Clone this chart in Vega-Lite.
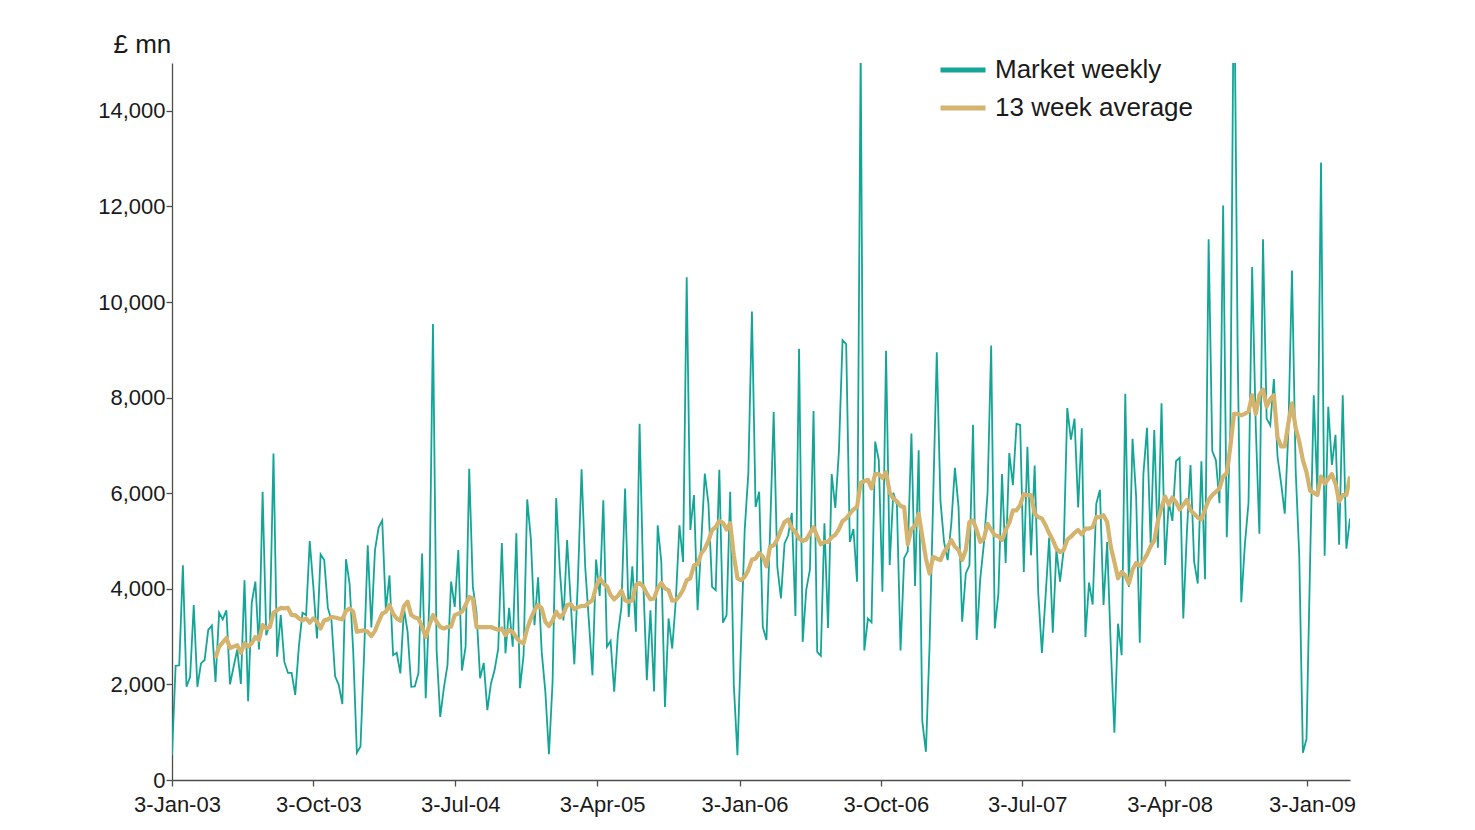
{
"$schema": "https://vega.github.io/schema/vega-lite/v6.json",
"width": 1178, "height": 717,
"autosize": {"type": "none"},
"padding": {"left": 172, "top": 63, "right": 125, "bottom": 50},
"background": "white",
"config": {"view": {"stroke": null}, "font": "Liberation Sans"},
"data": {"values": [
{"d":"2003-01-03","w":520},{"d":"2003-01-10","w":2390},{"d":"2003-01-17","w":2400},{"d":"2003-01-24","w":4490},{"d":"2003-01-31","w":1950},{"d":"2003-02-07","w":2160},{"d":"2003-02-14","w":3660},{"d":"2003-02-21","w":1950},{"d":"2003-02-28","w":2440},{"d":"2003-03-07","w":2510},{"d":"2003-03-14","w":3140},{"d":"2003-03-21","w":3230},
{"d":"2003-03-28","w":2050,"a":2550},{"d":"2003-04-04","w":3500,"a":2790},{"d":"2003-04-11","w":3360,"a":2880},{"d":"2003-04-18","w":3550,"a":2970},{"d":"2003-04-25","w":2000,"a":2760},{"d":"2003-05-02","w":2370,"a":2790},{"d":"2003-05-09","w":2730,"a":2820},{"d":"2003-05-16","w":2010,"a":2660},{"d":"2003-05-23","w":4180,"a":2860},{"d":"2003-05-30","w":1650,"a":2790},{"d":"2003-06-06","w":3710,"a":2860},{"d":"2003-06-13","w":4150,"a":2990},{"d":"2003-06-20","w":2730,"a":2930},{"d":"2003-06-27","w":6030,"a":3240},{"d":"2003-07-04","w":3030,"a":3170},{"d":"2003-07-11","w":3280,"a":3200},{"d":"2003-07-18","w":6830,"a":3500},{"d":"2003-07-25","w":2580,"a":3550},{"d":"2003-08-01","w":3450,"a":3600},{"d":"2003-08-08","w":2470,"a":3590},{"d":"2003-08-15","w":2240,"a":3600},{"d":"2003-08-22","w":2240,"a":3450},{"d":"2003-08-29","w":1780,"a":3450},{"d":"2003-09-05","w":2790,"a":3380},{"d":"2003-09-12","w":3500,"a":3340},{"d":"2003-09-19","w":3450,"a":3380},{"d":"2003-09-26","w":5000,"a":3290},{"d":"2003-10-03","w":4040,"a":3380},{"d":"2003-10-10","w":2960,"a":3310},{"d":"2003-10-17","w":4720,"a":3170},{"d":"2003-10-24","w":4600,"a":3340},{"d":"2003-10-31","w":3600,"a":3360},{"d":"2003-11-07","w":3340,"a":3410},{"d":"2003-11-14","w":2170,"a":3400},{"d":"2003-11-21","w":1990,"a":3380},{"d":"2003-11-28","w":1590,"a":3360},{"d":"2003-12-05","w":4620,"a":3540},{"d":"2003-12-12","w":4100,"a":3590},{"d":"2003-12-19","w":2680,"a":3520},{"d":"2003-12-26","w":570,"a":3100},
{"d":"2004-01-02","w":700,"a":3120},{"d":"2004-01-09","w":2630,"a":3130},{"d":"2004-01-16","w":4910,"a":3100},{"d":"2004-01-23","w":3190,"a":3010},{"d":"2004-01-30","w":4810,"a":3120},{"d":"2004-02-06","w":5280,"a":3310},{"d":"2004-02-13","w":5430,"a":3480},{"d":"2004-02-20","w":3550,"a":3520},{"d":"2004-02-27","w":4280,"a":3660},{"d":"2004-03-05","w":2610,"a":3480},{"d":"2004-03-12","w":2660,"a":3380},{"d":"2004-03-19","w":2230,"a":3330},{"d":"2004-03-26","w":3590,"a":3640},{"d":"2004-04-02","w":3100,"a":3730},{"d":"2004-04-09","w":1950,"a":3450},{"d":"2004-04-16","w":1960,"a":3400},{"d":"2004-04-23","w":2240,"a":3380},{"d":"2004-04-30","w":4740,"a":3200},{"d":"2004-05-07","w":1710,"a":2990},{"d":"2004-05-14","w":3760,"a":3240},{"d":"2004-05-21","w":9540,"a":3450},{"d":"2004-05-28","w":2720,"a":3310},{"d":"2004-06-04","w":1320,"a":3200},{"d":"2004-06-11","w":1920,"a":3170},{"d":"2004-06-18","w":2400,"a":3200},{"d":"2004-06-25","w":4150,"a":3210},{"d":"2004-07-02","w":3620,"a":3450},{"d":"2004-07-09","w":4810,"a":3480},{"d":"2004-07-16","w":2290,"a":3520},{"d":"2004-07-23","w":2790,"a":3660},{"d":"2004-07-30","w":6510,"a":3830},{"d":"2004-08-06","w":4040,"a":3800},{"d":"2004-08-13","w":3520,"a":3200},{"d":"2004-08-20","w":2130,"a":3200},{"d":"2004-08-27","w":2450,"a":3200},{"d":"2004-09-03","w":1460,"a":3200},{"d":"2004-09-10","w":2020,"a":3200},{"d":"2004-09-17","w":2300,"a":3170},{"d":"2004-09-24","w":2750,"a":3140},{"d":"2004-10-01","w":4960,"a":3170},{"d":"2004-10-08","w":2650,"a":3030},{"d":"2004-10-15","w":3600,"a":3140},{"d":"2004-10-22","w":2790,"a":3100},{"d":"2004-10-29","w":5160,"a":2980},{"d":"2004-11-05","w":1920,"a":2890},{"d":"2004-11-12","w":2610,"a":2860},{"d":"2004-11-19","w":5870,"a":3170},{"d":"2004-11-26","w":5050,"a":3380},{"d":"2004-12-03","w":3240,"a":3550},{"d":"2004-12-10","w":4240,"a":3660},{"d":"2004-12-17","w":2680,"a":3590},{"d":"2004-12-24","w":1850,"a":3310},{"d":"2004-12-31","w":540,"a":3220},
{"d":"2005-01-07","w":2050,"a":3340},{"d":"2005-01-14","w":5900,"a":3520},{"d":"2005-01-21","w":4390,"a":3400},{"d":"2005-01-28","w":3340,"a":3480},{"d":"2005-02-04","w":5020,"a":3660},{"d":"2005-02-11","w":3730,"a":3680},{"d":"2005-02-18","w":2420,"a":3570},{"d":"2005-02-25","w":4200,"a":3620},{"d":"2005-03-04","w":6500,"a":3640},{"d":"2005-03-11","w":4460,"a":3640},{"d":"2005-03-18","w":3340,"a":3710},{"d":"2005-03-25","w":2190,"a":3760},{"d":"2005-04-01","w":4610,"a":4040},{"d":"2005-04-08","w":3850,"a":4220},{"d":"2005-04-15","w":5850,"a":4110},{"d":"2005-04-22","w":2790,"a":4050},{"d":"2005-04-29","w":2910,"a":3870},{"d":"2005-05-06","w":1850,"a":3780},{"d":"2005-05-13","w":3030,"a":3850},{"d":"2005-05-20","w":3620,"a":3960},{"d":"2005-05-27","w":6100,"a":3760},{"d":"2005-06-03","w":3410,"a":3730},{"d":"2005-06-10","w":4470,"a":3760},{"d":"2005-06-17","w":3100,"a":4080},{"d":"2005-06-24","w":7450,"a":4120},{"d":"2005-07-01","w":4200,"a":4050},{"d":"2005-07-08","w":2090,"a":3900},{"d":"2005-07-15","w":3550,"a":3780},{"d":"2005-07-22","w":1850,"a":3800},{"d":"2005-07-29","w":5330,"a":4010},{"d":"2005-08-05","w":4560,"a":4120},{"d":"2005-08-12","w":1530,"a":4010},{"d":"2005-08-19","w":3380,"a":3970},{"d":"2005-08-26","w":2750,"a":3750},{"d":"2005-09-02","w":3760,"a":3760},{"d":"2005-09-09","w":5330,"a":3850},{"d":"2005-09-16","w":4560,"a":3980},{"d":"2005-09-23","w":10520,"a":4180},{"d":"2005-09-30","w":5230,"a":4220},{"d":"2005-10-07","w":5960,"a":4490},{"d":"2005-10-14","w":3550,"a":4510},{"d":"2005-10-21","w":4950,"a":4740},{"d":"2005-10-28","w":6410,"a":4840},{"d":"2005-11-04","w":5780,"a":5000},{"d":"2005-11-11","w":4040,"a":5230},{"d":"2005-11-18","w":3970,"a":5290},{"d":"2005-11-25","w":6490,"a":5420},{"d":"2005-12-02","w":3290,"a":5380},{"d":"2005-12-09","w":3450,"a":5240},{"d":"2005-12-16","w":6030,"a":5370},{"d":"2005-12-23","w":1990,"a":4700},{"d":"2005-12-30","w":520,"a":4220},
{"d":"2006-01-06","w":2900,"a":4180},{"d":"2006-01-13","w":5230,"a":4250},{"d":"2006-01-20","w":6410,"a":4390},{"d":"2006-01-27","w":9800,"a":4610},{"d":"2006-02-03","w":5710,"a":4630},{"d":"2006-02-10","w":6030,"a":4750},{"d":"2006-02-17","w":3200,"a":4670},{"d":"2006-02-24","w":2930,"a":4470},{"d":"2006-03-03","w":5190,"a":4880},{"d":"2006-03-10","w":7700,"a":4910},{"d":"2006-03-17","w":4460,"a":5030},{"d":"2006-03-24","w":3800,"a":5230},{"d":"2006-03-31","w":4950,"a":5400},{"d":"2006-04-07","w":5120,"a":5450},{"d":"2006-04-14","w":5590,"a":5260},{"d":"2006-04-21","w":3430,"a":5190},{"d":"2006-04-28","w":9020,"a":5050},{"d":"2006-05-05","w":2890,"a":5000},{"d":"2006-05-12","w":3990,"a":5030},{"d":"2006-05-19","w":4400,"a":5160},{"d":"2006-05-26","w":7720,"a":5290},{"d":"2006-06-02","w":2680,"a":5100},{"d":"2006-06-09","w":2600,"a":4930},{"d":"2006-06-16","w":5370,"a":4980},{"d":"2006-06-23","w":3180,"a":4980},{"d":"2006-06-30","w":6400,"a":5080},{"d":"2006-07-07","w":5690,"a":5130},{"d":"2006-07-14","w":6880,"a":5250},{"d":"2006-07-21","w":9200,"a":5420},{"d":"2006-07-28","w":9120,"a":5470},{"d":"2006-08-04","w":4980,"a":5570},{"d":"2006-08-11","w":5250,"a":5660},{"d":"2006-08-18","w":4150,"a":5710},{"d":"2006-08-25","w":15300,"a":6220},{"d":"2006-09-01","w":2710,"a":6250},{"d":"2006-09-08","w":3380,"a":6280},{"d":"2006-09-15","w":3300,"a":6100},{"d":"2006-09-22","w":7080,"a":6400},{"d":"2006-09-29","w":6690,"a":6400},{"d":"2006-10-06","w":3940,"a":6320},{"d":"2006-10-13","w":8980,"a":6440},{"d":"2006-10-20","w":4500,"a":6010},{"d":"2006-10-27","w":6010,"a":5890},{"d":"2006-11-03","w":5760,"a":5830},{"d":"2006-11-10","w":2710,"a":5730},{"d":"2006-11-17","w":4640,"a":5710},{"d":"2006-11-24","w":4790,"a":4930},{"d":"2006-12-01","w":7250,"a":5250},{"d":"2006-12-08","w":4060,"a":5320},{"d":"2006-12-15","w":6900,"a":5570},{"d":"2006-12-22","w":1230,"a":5100},{"d":"2006-12-29","w":590,"a":4630},
{"d":"2007-01-05","w":2800,"a":4320},{"d":"2007-01-12","w":5900,"a":4670},{"d":"2007-01-19","w":8950,"a":4630},{"d":"2007-01-26","w":5850,"a":4600},{"d":"2007-02-02","w":4980,"a":4770},{"d":"2007-02-09","w":4600,"a":4880},{"d":"2007-02-16","w":5360,"a":5020},{"d":"2007-02-23","w":6530,"a":4880},{"d":"2007-03-02","w":5710,"a":4810},{"d":"2007-03-09","w":3310,"a":4600},{"d":"2007-03-16","w":4320,"a":4810},{"d":"2007-03-23","w":4490,"a":5400},{"d":"2007-03-30","w":7430,"a":5430},{"d":"2007-04-06","w":2930,"a":5230},{"d":"2007-04-13","w":4220,"a":4980},{"d":"2007-04-20","w":4950,"a":5050},{"d":"2007-04-27","w":6000,"a":5360},{"d":"2007-05-04","w":9090,"a":5240},{"d":"2007-05-11","w":3170,"a":5120},{"d":"2007-05-18","w":3900,"a":5100},{"d":"2007-05-25","w":6400,"a":5020},{"d":"2007-06-01","w":4540,"a":5230},{"d":"2007-06-08","w":6840,"a":5380},{"d":"2007-06-15","w":6170,"a":5640},{"d":"2007-06-22","w":7450,"a":5640},{"d":"2007-06-29","w":7430,"a":5750},{"d":"2007-07-06","w":4350,"a":5980},{"d":"2007-07-13","w":6970,"a":5960},{"d":"2007-07-20","w":4700,"a":5960},{"d":"2007-07-27","w":6580,"a":5570},{"d":"2007-08-03","w":3900,"a":5500},{"d":"2007-08-10","w":2660,"a":5470},{"d":"2007-08-17","w":3830,"a":5330},{"d":"2007-08-24","w":5070,"a":5160},{"d":"2007-08-31","w":3080,"a":5020},{"d":"2007-09-07","w":4810,"a":4840},{"d":"2007-09-14","w":4150,"a":4770},{"d":"2007-09-21","w":4810,"a":4810},{"d":"2007-09-28","w":7780,"a":5030},{"d":"2007-10-05","w":7120,"a":5090},{"d":"2007-10-12","w":7560,"a":5170},{"d":"2007-10-19","w":5700,"a":5230},{"d":"2007-10-26","w":7360,"a":5140},{"d":"2007-11-02","w":2990,"a":5260},{"d":"2007-11-09","w":4130,"a":5260},{"d":"2007-11-16","w":3670,"a":5290},{"d":"2007-11-23","w":5780,"a":5500},{"d":"2007-11-30","w":6070,"a":5500},{"d":"2007-12-07","w":3660,"a":5540},{"d":"2007-12-14","w":4980,"a":5400},{"d":"2007-12-21","w":2790,"a":4880},{"d":"2007-12-28","w":990,"a":4560},
{"d":"2008-01-04","w":3270,"a":4220},{"d":"2008-01-11","w":2610,"a":4350},{"d":"2008-01-18","w":8080,"a":4280},{"d":"2008-01-25","w":4040,"a":4110},{"d":"2008-02-01","w":7140,"a":4400},{"d":"2008-02-08","w":5920,"a":4540},{"d":"2008-02-15","w":2870,"a":4480},{"d":"2008-02-22","w":6400,"a":4590},{"d":"2008-02-29","w":7370,"a":4720},{"d":"2008-03-07","w":4950,"a":4890},{"d":"2008-03-14","w":7320,"a":5010},{"d":"2008-03-21","w":4860,"a":5420},{"d":"2008-03-28","w":7880,"a":5710},{"d":"2008-04-04","w":4500,"a":5930},{"d":"2008-04-11","w":5810,"a":5760},{"d":"2008-04-18","w":5420,"a":5910},{"d":"2008-04-25","w":6670,"a":5810},{"d":"2008-05-02","w":6740,"a":5660},{"d":"2008-05-09","w":3380,"a":5760},{"d":"2008-05-16","w":5180,"a":5860},{"d":"2008-05-23","w":6590,"a":5640},{"d":"2008-05-30","w":4570,"a":5570},{"d":"2008-06-06","w":4110,"a":5490},{"d":"2008-06-13","w":6670,"a":5450},{"d":"2008-06-20","w":4200,"a":5660},{"d":"2008-06-27","w":11310,"a":5860},{"d":"2008-07-04","w":6880,"a":5960},{"d":"2008-07-11","w":6690,"a":6030},{"d":"2008-07-18","w":5790,"a":6100},{"d":"2008-07-25","w":12020,"a":6350},{"d":"2008-08-01","w":5080,"a":6420},{"d":"2008-08-08","w":7370,"a":6980},{"d":"2008-08-15","w":17500,"a":7660},{"d":"2008-08-22","w":9000,"a":7660},{"d":"2008-08-29","w":3720,"a":7630},{"d":"2008-09-05","w":4930,"a":7660},{"d":"2008-09-12","w":5800,"a":7710},{"d":"2008-09-19","w":10730,"a":8050},{"d":"2008-09-26","w":7400,"a":7660},{"d":"2008-10-03","w":5150,"a":8050},{"d":"2008-10-10","w":11310,"a":8170},{"d":"2008-10-17","w":7560,"a":7810},{"d":"2008-10-24","w":7420,"a":7970},{"d":"2008-10-31","w":8390,"a":8050},{"d":"2008-11-07","w":6770,"a":7170},{"d":"2008-11-14","w":6200,"a":6980},{"d":"2008-11-21","w":5570,"a":6980},{"d":"2008-11-28","w":7300,"a":7470},{"d":"2008-12-05","w":10660,"a":7880},{"d":"2008-12-12","w":6500,"a":7370},{"d":"2008-12-19","w":4690,"a":7080},{"d":"2008-12-26","w":570,"a":6690},
{"d":"2009-01-02","w":860,"a":6440},{"d":"2009-01-09","w":4600,"a":6050},{"d":"2009-01-16","w":8050,"a":6010},{"d":"2009-01-23","w":6010,"a":5960},{"d":"2009-01-30","w":12920,"a":6350},{"d":"2009-02-06","w":4690,"a":6200},{"d":"2009-02-13","w":7810,"a":6300},{"d":"2009-02-20","w":6590,"a":6400},{"d":"2009-02-27","w":7220,"a":6200},{"d":"2009-03-06","w":4920,"a":5830},{"d":"2009-03-13","w":8050,"a":5960},{"d":"2009-03-20","w":4840,"a":5960},{"d":"2009-03-27","w":5470,"a":6350}
]},
"encoding": {
  "x": {"field": "d", "type": "temporal",
    "scale": {"type": "utc", "domain": [{"year": 2003, "month": 1, "date": 3, "utc": true}, {"year": 2009, "month": 3, "date": 27, "utc": true}]},
    "axis": {"title": null, "grid": false,
      "labelExpr": "utcdate(datum.value) + '-' + ['Jan','Feb','Mar','Apr','May','Jun','Jul','Aug','Sep','Oct','Nov','Dec'][utcmonth(datum.value)] + '-' + substring(toString(utcyear(datum.value)), 2)",
      "values": [
        {"year": 2003, "month": 1, "date": 3, "utc": true},
        {"year": 2003, "month": 10, "date": 3, "utc": true},
        {"year": 2004, "month": 7, "date": 3, "utc": true},
        {"year": 2005, "month": 4, "date": 3, "utc": true},
        {"year": 2006, "month": 1, "date": 3, "utc": true},
        {"year": 2006, "month": 10, "date": 3, "utc": true},
        {"year": 2007, "month": 7, "date": 3, "utc": true},
        {"year": 2008, "month": 4, "date": 3, "utc": true},
        {"year": 2009, "month": 1, "date": 3, "utc": true}],
      "labelFontSize": 22, "labelColor": "#1a1a1a", "labelOverlap": false, "labelFlush": false,
      "tickSize": 6, "labelPadding": 8, "labelOffset": 5, "domainColor": "#4d4d4d", "tickColor": "#4d4d4d", "domainWidth": 1.3, "tickWidth": 1.3}
  }
},
"layer": [
  {"mark": {"type": "line", "strokeWidth": 1.8, "clip": true},
   "encoding": {
     "y": {"field": "w", "type": "quantitative",
       "scale": {"domain": [0, 15000], "nice": false},
       "axis": {"values": [0, 2000, 4000, 6000, 8000, 10000, 12000, 14000],
         "labelExpr": "datum.value == 0 ? '0' : toString(floor(datum.value / 1000)) + ',000'",
         "grid": false,
         "labelFontSize": 22, "labelColor": "#1a1a1a", "tickSize": 6, "labelPadding": 1,
         "domainColor": "#4d4d4d", "tickColor": "#4d4d4d", "domainWidth": 1.3, "tickWidth": 1.3,
         "title": "£ mn", "titleAngle": 0, "titleFontSize": 26, "titleFontWeight": "normal", "titleColor": "#1a1a1a",
         "titleAlign": "left", "titleBaseline": "alphabetic", "titleX": -59, "titleY": -11}},
     "color": {"datum": "Market weekly", "type": "nominal",
       "scale": {"domain": ["Market weekly", "13 week average"], "range": ["#13a596", "#d4b36f"]},
       "legend": {"title": null, "orient": "none", "legendX": 766, "legendY": -18,
         "symbolType": "stroke", "symbolSize": 2025, "symbolStrokeWidth": 5,
         "labelFontSize": 26, "labelLimit": 400, "labelColor": "#1a1a1a", "labelOffset": 7, "rowPadding": -5}}
   }},
  {"mark": {"type": "line", "strokeWidth": 4.2, "clip": true, "strokeJoin": "round"},
   "encoding": {
     "y": {"field": "a", "type": "quantitative"},
     "color": {"datum": "13 week average", "type": "nominal"}
   }}
]
}
